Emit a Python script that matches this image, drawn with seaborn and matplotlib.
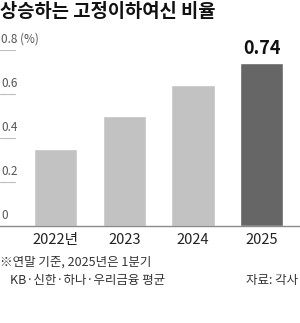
import matplotlib
matplotlib.use("Agg")
import matplotlib.pyplot as plt
import seaborn as sns
import pandas as pd

# 데이터
years = ["2022년", "2023", "2024", "2025"]
ratios = [0.35, 0.50, 0.64, 0.74]
bar_colors = ["#c2c2c2", "#c2c2c2", "#c2c2c2", "#666666"]
y_ticks = [0, 0.2, 0.4, 0.6, 0.8]
y_tick_labels = ["0", "0.2", "0.4", "0.6", "0.8 (%)"]

sns.set_theme(style="white")
plt.rcParams["font.family"] = ["Noto Sans CJK KR", "DejaVu Sans"]

df = pd.DataFrame({"year": years, "ratio": ratios})

fig = plt.figure(figsize=(3.0, 3.23), dpi=100)
ax = fig.add_axes([0.0, 0.300, 1.0, 0.545])

sns.barplot(data=df, x="year", y="ratio", hue="year", palette=bar_colors,
            legend=False, width=0.63, ax=ax, saturation=1)

ax.set_xlim(-0.81, 3.56)
ax.set_ylim(0, 0.8)
ax.set_xlabel("")
ax.set_ylabel("")
ax.set_yticks([])
for s in ["top", "right", "left"]:
    ax.spines[s].set_visible(False)
ax.spines["bottom"].set_color("#8a8a8a")
ax.spines["bottom"].set_linewidth(1.0)
ax.tick_params(axis="x", length=0, pad=5, labelsize=10.5, labelcolor="#222222")

# 눈금선 (짧은 선) + 라벨
for v, lab in zip(y_ticks, y_tick_labels):
    if v > 0:
        ax.axhline(v, xmin=0, xmax=0.05, color="#bdbdbd", lw=0.8)
    ax.text(0.003, v + 0.02, lab, transform=ax.get_yaxis_transform(),
            ha="left", va="bottom", fontsize=8.5, color="#555555")

# 마지막 값 표시
ax.text(3, ratios[-1] + 0.025, f"{ratios[-1]:.2f}", ha="center", va="bottom",
        fontsize=13, fontweight="bold", color="#111111")

fig.text(0.0, 0.963, "상승하는 고정이하여신 비율", ha="left", va="center",
         fontsize=13.5, fontweight="bold", color="#111111")

fig.text(0.0, 0.189, "※연말 기준, 2025년은 1분기", ha="left", va="center",
         fontsize=9, color="#333333")
fig.text(0.033, 0.133, "KB·신한·하나·우리금융 평균", ha="left", va="center",
         fontsize=9, color="#333333")
fig.text(0.995, 0.133, "자료: 각사", ha="right", va="center",
         fontsize=9, color="#333333")

fig.savefig("out.png", dpi=100)
